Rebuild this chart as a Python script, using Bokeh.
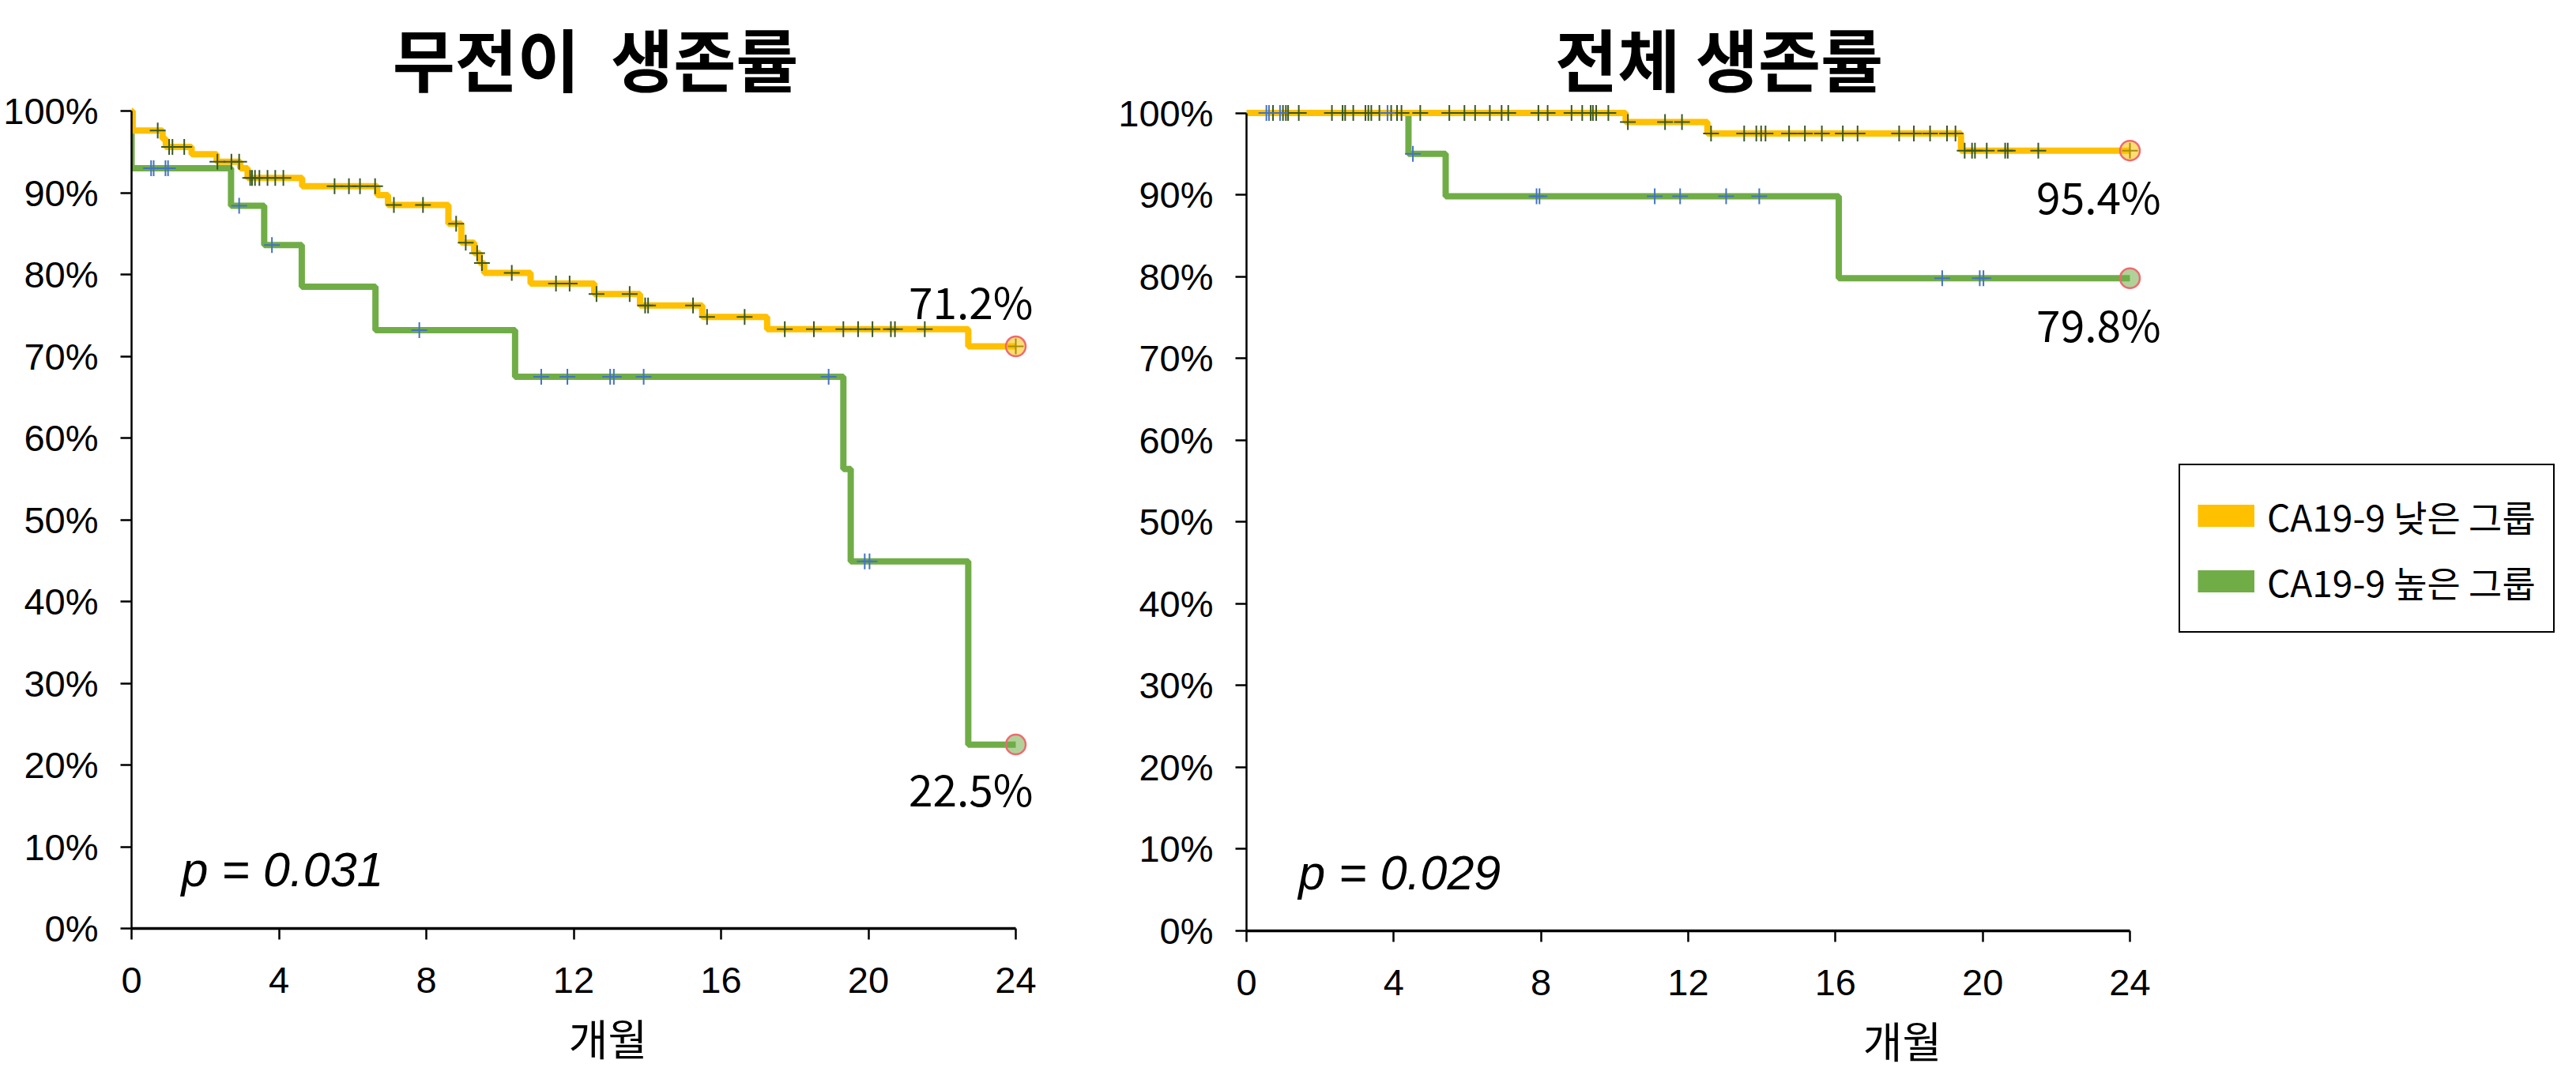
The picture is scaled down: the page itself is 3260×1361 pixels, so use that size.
from bokeh.plotting import figure
from bokeh.models import Label, Legend, LegendItem, NumeralTickFormatter, FixedTicker, Range1d
from bokeh.layouts import row
from bokeh.embed import file_html
from bokeh.resources import INLINE

# ---------------- data ----------------
month_ticks = [0, 4, 8, 12, 16, 20, 24]
pct_ticks = [0.0, 0.1, 0.2, 0.3, 0.4, 0.5, 0.6, 0.7, 0.8, 0.9, 1.0]
titles = ["무전이  생존률", "전체 생존률"]
x_label = "개월"
group_names = ["CA19-9 낮은 그룹", "CA19-9 높은 그룹"]
p_values = ["p = 0.031", "p = 0.029"]

# 무전이 생존률 (left)
pfs_low_t = [0.03, 0.84, 0.93, 1.63, 2.31, 2.95, 3.15, 4.63, 6.67, 6.96, 8.60, 8.95, 9.30, 9.45, 9.57,
             10.83, 12.56, 13.80, 15.49, 17.25, 22.71]
pfs_low_s = [0.976, 0.966, 0.956, 0.947, 0.938, 0.930, 0.918, 0.908, 0.897, 0.885, 0.862, 0.839, 0.826,
             0.814, 0.802, 0.789, 0.776, 0.762, 0.748, 0.733, 0.712]
pfs_low_c = [0.71, 1.02, 1.11, 1.43, 2.33, 2.71, 2.92, 3.22, 3.27, 3.35, 3.47, 3.69, 3.90, 4.12, 5.51,
             5.90, 6.20, 6.61, 7.12, 7.91, 8.81, 9.07, 9.38, 9.51, 10.32, 11.52, 11.89, 12.62, 13.52,
             13.94, 14.02, 15.24, 15.62, 16.64, 17.73, 18.52, 19.32, 19.72, 20.11, 20.61, 20.72, 21.53, 24.0]
pfs_high_t = [0.0, 2.70, 3.60, 4.62, 6.62, 10.41, 19.32, 19.52, 22.71]
pfs_high_s = [0.930, 0.884, 0.836, 0.785, 0.732, 0.675, 0.562, 0.449, 0.225]
pfs_high_c = [0.53, 0.60, 0.92, 0.99, 2.92, 3.81, 7.81, 11.12, 11.83, 12.99, 13.09, 13.90, 18.92, 19.90, 20.03]

# 전체 생존률 (right)
os_low_t = [10.30, 12.52, 19.41]
os_low_s = [0.989, 0.975, 0.954]
os_low_c = [0.72, 0.99, 1.07, 1.13, 1.42, 2.32, 2.61, 2.68, 2.90, 3.23, 3.31, 3.39, 3.61, 3.93, 4.09, 4.21,
            4.72, 5.51, 5.92, 6.21, 6.61, 6.93, 7.11, 7.93, 8.18, 8.83, 9.12, 9.35, 9.41, 9.50, 9.83,
            10.36, 11.37, 11.83, 12.62, 13.52, 13.85, 13.98, 14.10, 14.74, 15.17, 15.63, 16.20, 16.60,
            17.73, 18.13, 18.57, 19.03, 19.26, 19.51, 19.71, 19.79, 20.11, 20.61, 20.68, 21.51, 24.0]
os_high_t = [4.40, 5.41, 16.09]
os_high_s = [0.950, 0.898, 0.798]
os_high_c = [0.54, 0.61, 0.91, 3.83, 4.52, 7.88, 7.96, 11.09, 11.78, 13.03, 13.93, 18.90, 19.92, 20.02]

END_MONTH = 24.0

# ---------------- styles ----------------
ORANGE = "#FFC000"
GREEN = "#70AD47"
CEN_LOW = "#385723"
CEN_HIGH = "#4472C4"
RING = "#EE6A70"
KFONT = "Noto Sans CJK KR"
AFONT = "Liberation Sans"
NAN = float("nan")


def km_xy(event_t, surv):
    xs = [0.0] + list(event_t) + [END_MONTH]
    ys = [1.0] + list(surv) + [surv[-1]]
    return xs, ys


def surv_at(t, event_t, surv):
    s = 1.0
    for et, sv in zip(event_t, surv):
        if et <= t:
            s = sv
    return s


def make_panel(title, ptext, low, high, geo, title_pos, ptext_pos, lab_pos):
    # geo: frame width/height, pixels for 24 months / for 100 %, borders
    fw, fh, px24, px100, mbl, mbr, mbt, mbb = geo
    p = figure(frame_width=fw, frame_height=fh, min_border_left=mbl, min_border_right=mbr,
               min_border_top=mbt, min_border_bottom=mbb,
               x_range=Range1d(0, 24 * fw / px24), y_range=Range1d(0, fh / px100),
               output_backend="svg", toolbar_location=None)
    p.outline_line_color = None
    p.xgrid.visible = False
    p.ygrid.visible = False
    p.background_fill_color = "white"
    p.border_fill_color = "white"

    xa, ya = p.xaxis[0], p.yaxis[0]
    xa.ticker = FixedTicker(ticks=month_ticks)
    ya.ticker = FixedTicker(ticks=pct_ticks)
    ya.formatter = NumeralTickFormatter(format="0%")
    xa.bounds = (0, 24)
    ya.bounds = (0, 1)
    for ax in (xa, ya):
        ax.major_label_text_font = AFONT
        ax.major_label_text_font_size = "47px"
        ax.major_label_text_color = "black"
        ax.axis_line_color = "black"
        ax.major_tick_line_color = "black"
        ax.major_tick_line_width = 2.5
        ax.major_tick_out = 14
        ax.major_tick_in = 0
        ax.minor_tick_line_color = None
    xa.axis_line_width = 3.5
    ya.axis_line_width = 2.5
    xa.major_label_standoff = 35
    ya.major_label_standoff = 28
    xa.axis_label = x_label
    xa.axis_label_text_font = KFONT
    xa.axis_label_text_font_size = "54px"
    xa.axis_label_text_font_style = "normal"
    xa.axis_label_text_color = "black"
    xa.axis_label_standoff = 14

    (lt, ls, lc), (ht, hs, hc) = low, high
    hx, hy = km_xy(ht, hs)
    lx, ly = km_xy(lt, ls)
    p.step(hx, hy, mode="after", line_color=GREEN, line_width=8)
    p.step(lx, ly, mode="after", line_color=ORANGE, line_width=8)

    p.scatter(lc, [surv_at(t, lt, ls) for t in lc], marker="cross", size=20,
              line_color=CEN_LOW, line_width=2)
    p.scatter(hc, [surv_at(t, ht, hs) for t in hc], marker="cross", size=20,
              line_color=CEN_HIGH, line_width=2)

    p.scatter([END_MONTH], [ls[-1]], marker="circle", size=25, fill_color=ORANGE, fill_alpha=0.55,
              line_color=RING, line_width=2.5)
    p.scatter([END_MONTH], [hs[-1]], marker="circle", size=25, fill_color=GREEN, fill_alpha=0.55,
              line_color=RING, line_width=2.5)

    # keep a double space visible in SVG output
    shown_title = title.replace("  ", " \u00a0")
    p.add_layout(Label(x=title_pos[0], y=title_pos[1], text=shown_title, text_align="center",
                       text_baseline="alphabetic", text_font=KFONT, text_font_size="86px",
                       text_font_style="bold", text_color="black"))
    p.add_layout(Label(x=ptext_pos[0], y=ptext_pos[1], text=ptext, text_align="left",
                       text_baseline="alphabetic", text_font=AFONT, text_font_size="61px",
                       text_font_style="italic", text_color="black"))
    for val, (lxp, lyp) in zip((ls[-1], hs[-1]), lab_pos):
        p.add_layout(Label(x=lxp, y=lyp, text=f"{val * 100:.1f}%", text_align="right",
                           text_baseline="alphabetic", text_font=KFONT, text_font_size="55px",
                           text_color="black"))
    return p


p1 = make_panel(titles[0], p_values[0],
                (pfs_low_t, pfs_low_s, pfs_low_c), (pfs_high_t, pfs_high_s, pfs_high_c),
                (1206, 1167, 1119, 1035, 166, 20, 8, 170),
                (12.59, 1.066), (1.35, 0.072), [(24.47, 0.769), (24.47, 0.1725)])

p2 = make_panel(titles[1], p_values[1],
                (os_low_t, os_low_s, os_low_c), (os_high_t, os_high_s, os_high_c),
                (1660, 1170, 1118, 1035.5, 185, 5, 8, 167),
                (12.84, 1.068), (1.41, 0.071), [(24.84, 0.900), (24.84, 0.743)])

leg_low = p2.line(x=[NAN], y=[NAN], line_color=ORANGE, line_width=28)
leg_high = p2.line(x=[NAN], y=[NAN], line_color=GREEN, line_width=28)
legend = Legend(items=[LegendItem(label=group_names[0], renderers=[leg_low]),
                       LegendItem(label=group_names[1], renderers=[leg_high])],
                location=(1180, 377), glyph_width=72, glyph_height=83, label_height=83,
                label_standoff=16, spacing=0, padding=22, margin=0,
                border_line_color="black", border_line_width=2.5, border_line_alpha=1,
                background_fill_color="white", background_fill_alpha=1,
                label_text_font=KFONT, label_text_font_size="46px", label_text_color="black")
p2.add_layout(legend)

layout = row(p1, p2)
open("out.html", "w").write(file_html(layout, INLINE))
